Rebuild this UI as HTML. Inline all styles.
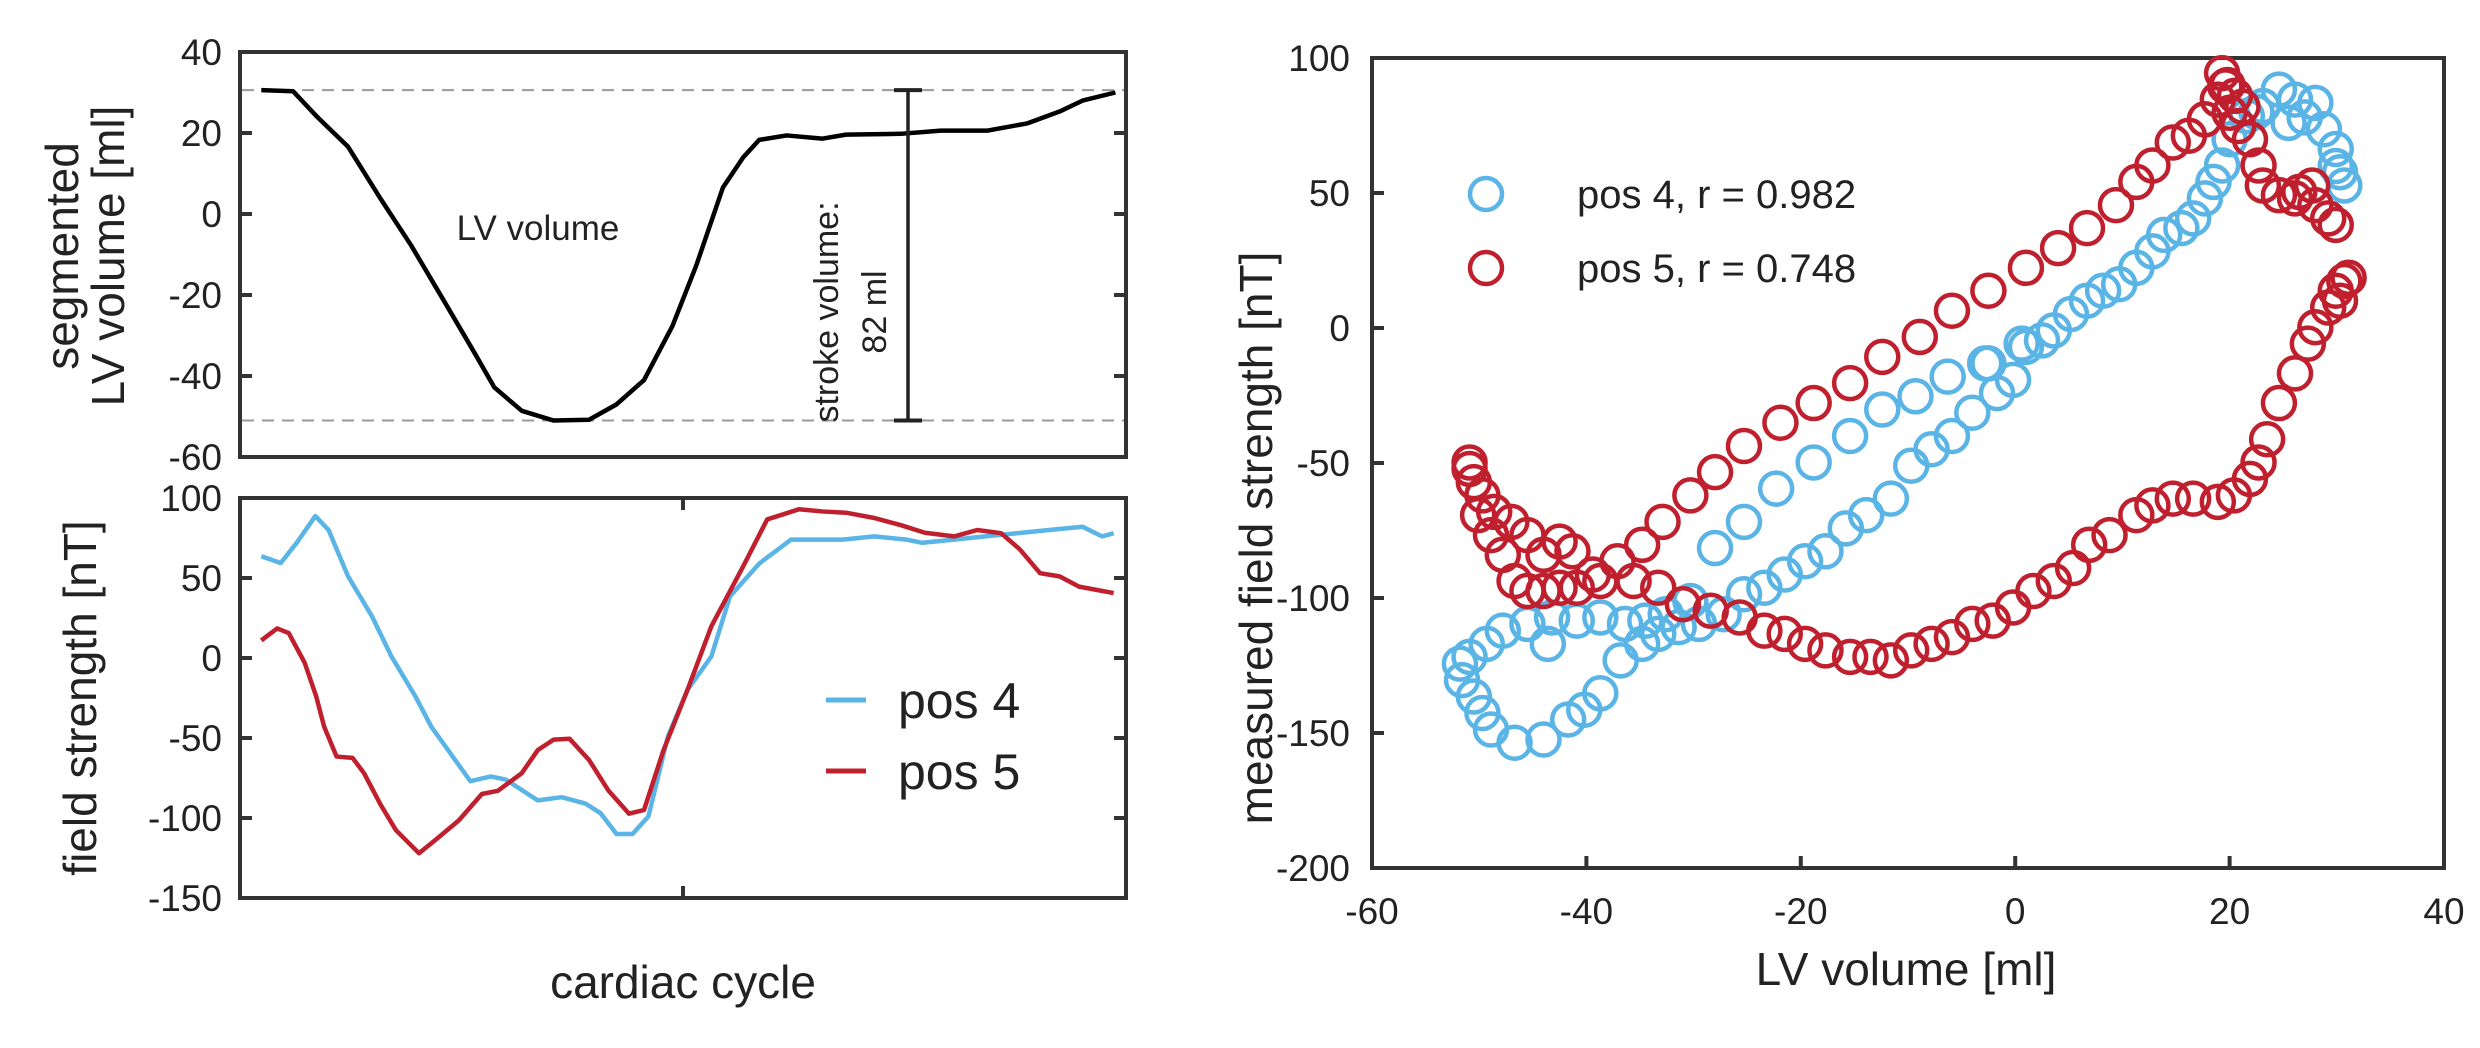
<!DOCTYPE html>
<html><head><meta charset="utf-8"><style>
html,body{margin:0;padding:0;background:#fff;}
svg{display:block;font-family:"Liberation Sans",sans-serif;}
</style></head><body>
<svg id="fig" width="2480" height="1048" viewBox="0 0 2480 1048" xmlns="http://www.w3.org/2000/svg">
<g id="g"></g>
</svg>
<script>
// ---- top-left: LV volume over cardiac cycle ----
const lvT = [0.024,0.06,0.087,0.122,0.158,0.193,0.229,0.265,0.287,0.318,0.354,0.394,0.425,0.456,0.488,0.515,0.545,0.568,0.586,0.617,0.657,0.684,0.746,0.791,0.844,0.889,0.925,0.951,0.988];
const lvV = [30.6,30.3,24,16.6,4,-7.7,-21,-34.4,-42.8,-48.6,-51,-50.8,-47,-41,-27.7,-12.7,6.5,14,18.3,19.4,18.6,19.6,19.8,20.6,20.6,22.4,25.3,28,30];
const lvTicks = [40,20,0,-20,-40,-60];
// ---- bottom-left: field strength ----
const p4T = [0.024,0.046,0.064,0.085,0.1,0.122,0.149,0.171,0.198,0.216,0.238,0.26,0.283,0.3,0.336,0.363,0.39,0.407,0.425,0.443,0.461,0.483,0.505,0.532,0.553,0.586,0.622,0.649,0.68,0.716,0.752,0.77,0.806,0.841,0.877,0.913,0.951,0.973,0.986];
const p4V = [63.6,59.4,72,88.7,80,51,26,0.9,-24,-43,-60,-77,-74,-76,-89,-87,-91,-97,-110,-110,-99,-49,-20,1,38.5,59,74,74,74,76,74,72,74,76,78,80,82,76,78];
const p5T = [0.024,0.042,0.055,0.073,0.086,0.095,0.109,0.127,0.14,0.158,0.176,0.202,0.22,0.247,0.273,0.291,0.318,0.336,0.354,0.372,0.394,0.416,0.439,0.456,0.478,0.505,0.532,0.568,0.595,0.631,0.657,0.684,0.716,0.746,0.773,0.806,0.832,0.859,0.88,0.903,0.925,0.947,0.986];
const p5V = [11,18.5,15.6,-3,-24,-43,-61.6,-62.4,-72,-91,-107.6,-122,-114,-101.5,-85,-83,-72,-57.6,-51,-50.5,-63.8,-83,-97.3,-95,-57.6,-20,19.8,57.4,86.6,93,91.6,90.8,87.5,83,78.3,76,80,78,68,53,51,44.6,40.6];
const fsTicks = [100,50,0,-50,-100,-150];
// ---- right: scatter ----
const s4Vol = [30.7,30.3,29.9,28.8,28.0,26.1,24.6,23.1,21.6,20.0,19.3,18.5,17.7,16.6,15.5,13.9,12.8,11.3,9.7,8.2,6.7,5.2,3.6,2.5,1.0,-0.2,-1.7,-2.5,-4.0,-5.9,-7.8,-9.7,-11.6,-13.9,-15.8,-17.7,-19.6,-21.5,-23.4,-25.3,-27.2,-29.5,-31.4,-33.3,-34.8,-36.8,-38.7,-40.2,-41.7,-44.0,-46.7,-48.9,-49.7,-50.5,-51.6,-51.8,-50.9,-49.3,-47.8,-45.5,-43.2,-40.9,-38.7,-36.4,-34.5,-32.6,-30.3,-43.6,-28.0,-25.3,-22.3,-18.8,-15.4,-12.4,-9.3,-6.3,-2.8,0.6,29.9,27.0,25.5,22.5];
const s4Fld = [52.8,57.7,66.3,73.6,83.4,84.6,88.3,82.2,78.5,69.9,60.2,54.1,48.0,40.6,37.0,34.5,28.4,22.3,16.2,13.8,10.1,5.2,-0.9,-4.6,-7.0,-19.2,-24.1,-13.1,-31.4,-40.0,-44.9,-51.0,-63.2,-69.3,-74.2,-82.7,-86.4,-91.3,-96.2,-98.6,-106.0,-109.6,-110.8,-113.3,-117.0,-123.1,-135.3,-141.4,-145.0,-152.4,-153.6,-148.7,-142.6,-136.5,-130.4,-124.3,-121.8,-117.0,-112.1,-109.6,-107.2,-108.4,-107.2,-109.6,-108.4,-106.0,-101.1,-117.0,-81.5,-71.8,-59.5,-49.8,-40.0,-30.2,-25.3,-18.0,-13.1,-5.8,60,78,76,80];
const s5Vol = [19.3,19.6,18.9,20.0,20.8,21.9,22.7,23.1,24.6,26.5,28.0,29.2,29.9,27.7,26.1,17.7,16.2,14.7,12.8,11.3,9.4,6.7,4.0,1.0,-2.5,-5.9,-8.9,-12.4,-15.4,-18.8,-21.9,-25.3,-28.0,-30.3,-32.9,-34.8,-37.1,-39.4,-41.3,-42.5,-44.0,-45.5,-47.0,-48.6,-49.7,-50.5,-50.9,-50.9,-50.1,-48.9,-47.8,-46.7,-45.5,-44.0,-42.5,-40.9,-38.7,-35.6,-33.3,-31.0,-28.4,-25.7,-23.4,-21.5,-19.6,-17.7,-15.4,-13.5,-11.6,-9.7,-7.8,-5.9,-4.0,-2.1,-0.2,1.7,3.6,5.4,6.9,8.8,11.3,12.8,14.7,16.6,18.9,20.4,21.9,22.7,23.5,24.6,26.1,27.3,28.0,29.2,29.9,30.7,31.1,30.3,19.8,20.5,21.2];
const s5Fld = [94.4,89.5,84.6,79.7,74.8,69.9,60.2,52.8,49.2,50.4,45.5,40.6,38.2,52.8,48.0,77.3,71.2,68.7,60.2,54.1,45.5,37.0,29.6,22.3,13.8,6.4,-3.3,-10.7,-20.4,-27.8,-35.1,-43.7,-53.4,-62.0,-71.8,-80.3,-86.4,-91.3,-82.7,-79.1,-84.0,-76.7,-71.8,-68.1,-62.0,-57.1,-49.8,-52.2,-69.3,-76.7,-84.0,-93.7,-97.4,-97.4,-96.2,-96.2,-93.7,-93.7,-96.2,-102.3,-104.7,-107.2,-112.1,-113.3,-117.0,-119.4,-121.8,-121.8,-123.1,-119.4,-117.0,-114.5,-109.6,-108.4,-103.5,-97.4,-93.7,-88.9,-80.3,-76.7,-69.3,-65.7,-63.2,-63.2,-64.4,-62.0,-55.9,-49.8,-41.2,-27.8,-16.8,-5.8,0.3,7.6,13.8,17.4,18.6,10.1,90,86,82];
const xTicksR = [-60,-40,-20,0,20,40];
const yTicksR = [100,50,0,-50,-100,-150,-200];

const NS='http://www.w3.org/2000/svg';
const G=document.getElementById('g');
function mk(tag,attrs,parent){const e=document.createElementNS(NS,tag);for(const k in attrs)e.setAttribute(k,attrs[k]);(parent||G).appendChild(e);return e;}
const AX='#333';
function txt(s,x,y,size,anchor,extra){const t=mk('text',Object.assign({x:x,y:y,'font-size':size,'text-anchor':anchor||'middle',fill:'#222'},extra||{}));t.textContent=s;return t;}

// top-left axes
const L={x0:240,x1:1126};
const yTL=v=>52+(40-v)*(405/100);
const xT=t=>L.x0+t*(L.x1-L.x0);
let r=mk('rect',{x:240,y:52,width:886,height:405,fill:'none',stroke:AX,'stroke-width':4});


lvTicks.forEach(v=>{const y=yTL(v);
 const l=mk('line',{x1:240,x2:252,y1:y,y2:y,stroke:AX,'stroke-width':4});
 
 mk('line',{x1:1114,x2:1126,y1:y,y2:y,stroke:AX,'stroke-width':4});
 const t=txt(String(v),222,y+13,37,'end');
 });
const maxV=Math.max(...lvV),minV=Math.min(...lvV);
[maxV,minV].forEach(v=>{const d=mk('line',{x1:242,x2:1124,y1:yTL(v),y2:yTL(v),stroke:'#999','stroke-width':2,'stroke-dasharray':'12 8'});
 });
let p=mk('path',{d:lvT.map((t,i)=>(i?'L':'M')+xT(t)+','+yTL(lvV[i])).join(''),fill:'none',stroke:'#000','stroke-width':4.5,'stroke-linejoin':'round'});

// stroke volume bar
const sx=908;
let eb=mk('g',{});

mk('line',{x1:sx,x2:sx,y1:yTL(maxV),y2:yTL(minV),stroke:'#222','stroke-width':3.5},eb);
mk('line',{x1:sx-14,x2:sx+14,y1:yTL(maxV),y2:yTL(maxV),stroke:'#222','stroke-width':4},eb);
mk('line',{x1:sx-14,x2:sx+14,y1:yTL(minV),y2:yTL(minV),stroke:'#222','stroke-width':4},eb);
let t1=txt('stroke volume:',0,0,34,'middle',{transform:'translate(838,312) rotate(-90)'});

let t2=txt('82 ml',0,0,34,'middle',{transform:'translate(886,312) rotate(-90)'});

let t3=txt('LV volume',538,240,35);

let t4=txt('segmented',0,0,46,'middle',{transform:'translate(78,256) rotate(-90)'});

txt('LV volume [ml]',0,0,46,'middle',{transform:'translate(124,256) rotate(-90)'});

// bottom-left
const yBL=v=>498+(100-v)*(400/250);
r=mk('rect',{x:240,y:498,width:886,height:400,fill:'none',stroke:AX,'stroke-width':4});

fsTicks.forEach(v=>{const y=yBL(v);
 mk('line',{x1:240,x2:252,y1:y,y2:y,stroke:AX,'stroke-width':4});
 mk('line',{x1:1114,x2:1126,y1:y,y2:y,stroke:AX,'stroke-width':4});
 const t=txt(String(v),222,y+13,37,'end');
 });
mk('line',{x1:683,x2:683,y1:498,y2:510,stroke:AX,'stroke-width':4});
mk('line',{x1:683,x2:683,y1:886,y2:898,stroke:AX,'stroke-width':4});
p=mk('path',{d:p4T.map((t,i)=>(i?'L':'M')+xT(t)+','+yBL(p4V[i])).join(''),fill:'none',stroke:'#5ab4e5','stroke-width':4.5,'stroke-linejoin':'round'});

p=mk('path',{d:p5T.map((t,i)=>(i?'L':'M')+xT(t)+','+yBL(p5V[i])).join(''),fill:'none',stroke:'#c0202e','stroke-width':4.5,'stroke-linejoin':'round'});

let lg=mk('g',{});

mk('line',{x1:826,x2:866,y1:700,y2:700,stroke:'#5ab4e5','stroke-width':5},lg);
mk('line',{x1:826,x2:866,y1:771,y2:771,stroke:'#c0202e','stroke-width':5},lg);
let lt=txt('pos 4',898,718,50,'start');lg.appendChild(lt);
lt=txt('pos 5',898,789,50,'start');lg.appendChild(lt);
let t5=txt('field strength [nT]',0,0,46,'middle',{transform:'translate(96,698) rotate(-90)'});

let t6=txt('cardiac cycle',683,998,46);


// right scatter
const R={x0:1372,x1:2444,y0:58,y1:868};
const xR=v=>R.x0+(v+60)/100*(R.x1-R.x0);
const yR=v=>R.y0+(100-v)/300*(R.y1-R.y0);
r=mk('rect',{x:R.x0,y:R.y0,width:R.x1-R.x0,height:R.y1-R.y0,fill:'none',stroke:AX,'stroke-width':4});

yTicksR.forEach(v=>{const y=yR(v);
 mk('line',{x1:R.x0,x2:R.x0+12,y1:y,y2:y,stroke:AX,'stroke-width':4});
 const t=txt(String(v),1350,y+13,37,'end');
 });
xTicksR.forEach(v=>{const x=xR(v);
 mk('line',{x1:x,x2:x,y1:R.y1,y2:R.y1-12,stroke:AX,'stroke-width':4});
 const t=txt(String(v),x,924,37,'middle');
 });
s4Vol.forEach((v,i)=>{const c=mk('circle',{cx:xR(v),cy:yR(s4Fld[i]),r:16,fill:'none',stroke:'#5ab4e5','stroke-width':4.5});
 });
s5Vol.forEach((v,i)=>{const c=mk('circle',{cx:xR(v),cy:yR(s5Fld[i]),r:16,fill:'none',stroke:'#c0202e','stroke-width':4.5});
 });
lg=mk('g',{});

mk('circle',{cx:1486,cy:194,r:16,fill:'none',stroke:'#5ab4e5','stroke-width':4.5},lg);
mk('circle',{cx:1486,cy:268,r:16,fill:'none',stroke:'#c0202e','stroke-width':4.5},lg);
lt=txt('pos 4, r = 0.982',1577,208,40,'start');lg.appendChild(lt);
lt=txt('pos 5, r = 0.748',1577,282,40,'start');lg.appendChild(lt);
let t7=txt('measured field strength [nT]',0,0,46,'middle',{transform:'translate(1272,538) rotate(-90)'});

let t8=txt('LV volume [ml]',1906,985,46);

</script>
</body></html>
